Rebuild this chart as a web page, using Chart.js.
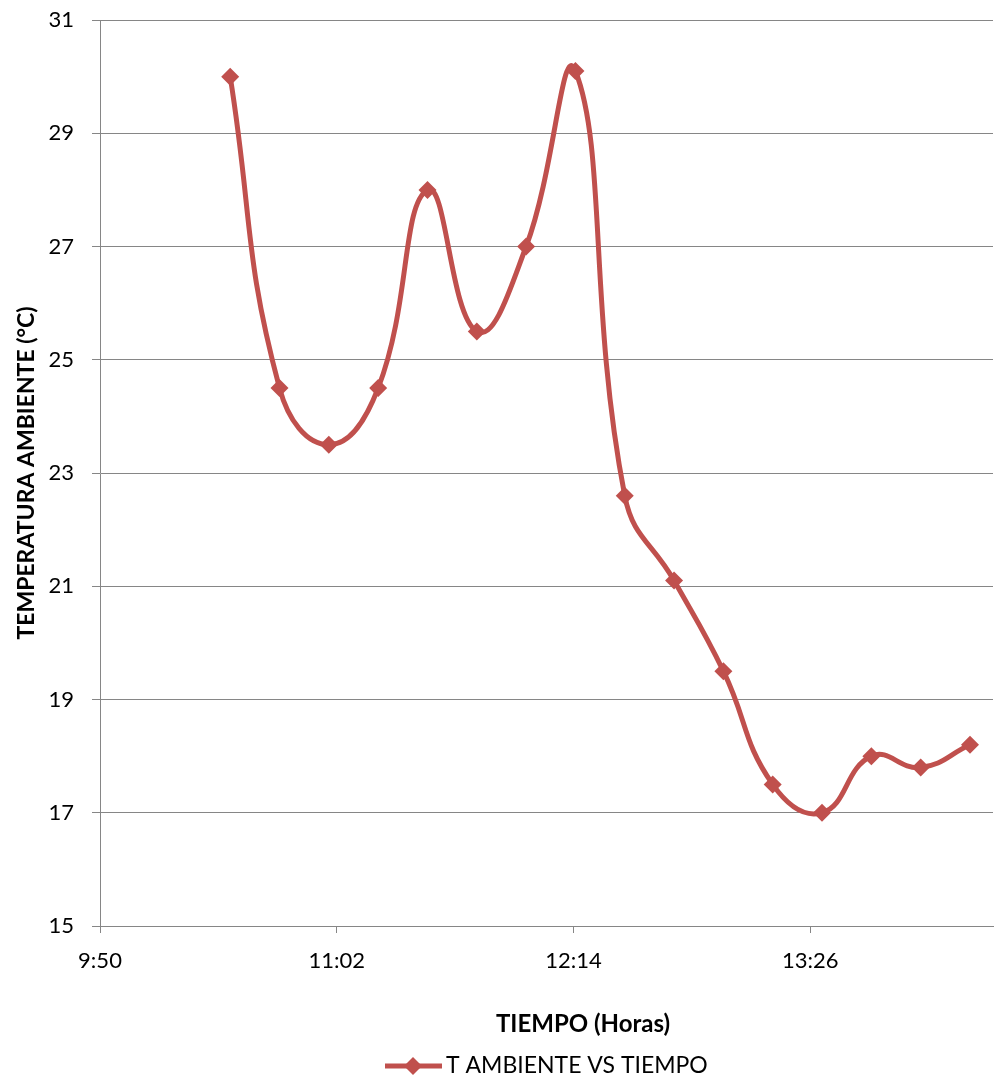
<!DOCTYPE html>
<html>
<head>
<meta charset="utf-8">
<script src="https://cdn.jsdelivr.net/npm/chart.js@4.4.1/dist/chart.umd.min.js"></script>
<style>
  html, body { margin: 0; background: #fff; }
  #wrap { width: 994px; height: 1080px; }
</style>
</head>
<body>
<div id="wrap"><canvas id="tempChart"></canvas></div>
<script>
/* Temperatura ambiente medida cada 15 min */
const HORAS      = ['10:30', '10:45', '11:00', '11:15', '11:30', '11:45', '12:00', '12:15',
                    '12:30', '12:45', '13:00', '13:15', '13:30', '13:45', '14:00', '14:15'];
const T_AMBIENTE = [30.0, 24.5, 23.5, 24.5, 28.0, 25.5, 27.0, 30.1,
                    22.6, 21.1, 19.5, 17.5, 17.0, 18.0, 17.8, 18.2];

// eje X en minutos desde medianoche (9:50 ... 13:26 cada 72 min)
const X_TICKS = [590.4, 662.4, 734.4, 806.4];
const X_MAX   = 862;
const Y_TICKS = [15, 17, 19, 21, 23, 25, 27, 29, 31];

const SERIE    = 'T AMBIENTE VS TIEMPO';
const TITULO_X = 'TIEMPO (Horas)';
const TITULO_Y = 'TEMPERATURA AMBIENTE (°C)';

const ROJO = '#C0504D';
const GRIS = '#868686';
const FUENTE = 'Lato, "Open Sans", sans-serif';

const aMinutos = h => { const [hh, mm] = h.split(':').map(Number); return hh * 60 + mm; };
const aHora = m => { const t = Math.floor(m + 1e-6); return Math.floor(t / 60) + ':' + String(t % 60).padStart(2, '0'); };

/* título del eje X y leyenda debajo del gráfico */
const pieDeGrafico = {
  id: 'pieDeGrafico',
  afterDraw(chart) {
    const { ctx, chartArea } = chart;
    const b = chartArea.bottom;
    ctx.save();
    ctx.fillStyle = '#000';
    ctx.textBaseline = 'middle';
    ctx.textAlign = 'center';
    ctx.font = 'bold 24px ' + FUENTE;
    ctx.fillText(TITULO_X, 583, b + 98);

    // muestra de la serie: línea con rombo
    const ly = b + 140;
    ctx.strokeStyle = ROJO;
    ctx.lineWidth = 5;
    ctx.beginPath(); ctx.moveTo(385, ly); ctx.lineTo(442, ly); ctx.stroke();
    ctx.fillStyle = ROJO;
    ctx.beginPath();
    ctx.moveTo(413 - 9, ly); ctx.lineTo(413, ly - 9); ctx.lineTo(413 + 9, ly); ctx.lineTo(413, ly + 9);
    ctx.closePath(); ctx.fill();

    ctx.fillStyle = '#000';
    ctx.textAlign = 'left';
    ctx.font = '23px ' + FUENTE;
    ctx.fillText(SERIE, 446, ly);
    ctx.restore();
  },
};

new Chart(document.getElementById('tempChart'), {
  type: 'line',
  data: {
    datasets: [{
      label: SERIE,
      data: HORAS.map((h, i) => ({ x: aMinutos(h), y: T_AMBIENTE[i] })),
      borderColor: ROJO,
      backgroundColor: ROJO,
      borderWidth: 5,
      tension: 0.45,
      pointStyle: 'rectRot',
      pointRadius: 9,
      pointBorderWidth: 0,
      fill: false,
      clip: false,
    }],
  },
  options: {
    responsive: true, maintainAspectRatio: false,
    animation: false,
    layout: { autoPadding: false, padding: { top: 20, right: 1, bottom: 0, left: 0 } },
    plugins: { legend: { display: false }, tooltip: { enabled: false } },
    scales: {
      x: {
        type: 'linear',
        min: X_TICKS[0], max: X_MAX,
        afterBuildTicks: s => { s.ticks = X_TICKS.map(v => ({ value: v })); },
        afterFit: s => { s.height = 154; s.paddingLeft = 0; s.paddingRight = 0; },
        grid: { drawOnChartArea: false, color: GRIS, tickLength: 7 },
        border: { color: GRIS, width: 1 },
        ticks: {
          color: '#000', padding: 15, maxRotation: 0,
          font: { family: FUENTE, size: 22 },
          callback: v => aHora(v),
        },
      },
      y: {
        min: Y_TICKS[0], max: Y_TICKS[Y_TICKS.length - 1],
        afterBuildTicks: s => { s.ticks = Y_TICKS.map(v => ({ value: v })); },
        afterFit: s => { s.width = 100; s.paddingTop = 0; s.paddingBottom = 0; },
        grid: { color: GRIS, tickLength: 8 },
        border: { color: GRIS, width: 1 },
        ticks: { color: '#000', padding: 18, font: { family: FUENTE, size: 22 } },
        title: {
          display: true, text: TITULO_Y, color: '#000',
          font: { family: FUENTE, size: 23, weight: 'bold' },
          padding: { top: 13, bottom: 0 },
        },
      },
    },
  },
  plugins: [pieDeGrafico],
});
</script>
</body>
</html>
